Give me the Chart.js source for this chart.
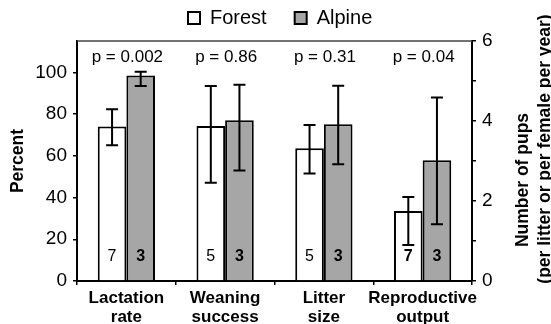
<!DOCTYPE html>
<html>
<head>
<meta charset="utf-8">
<script src="https://cdn.jsdelivr.net/npm/chart.js@4.4.1/dist/chart.umd.min.js"></script>
<style>
  html, body { margin: 0; padding: 0; background: #fff; }
  #wrap { width: 551px; height: 324px; }
</style>
</head>
<body>
<div id="wrap"><canvas id="pups"></canvas></div>
<script>
// values
const categories = [['Lactation', 'rate'], ['Weaning', 'success'], ['Litter', 'size'], ['Reproductive', 'output']];
const axisOf = ['pct', 'pct', 'pups', 'pups'];
const forestMean = [74, 74.3, 3.32, 1.75];
const forestLow = [65, 47.1, 2.69, 0.9];
const forestHigh = [82.3, 93.4, 3.9, 2.1];
const alpineMean = [98.5, 77, 3.92, 3.02];
const alpineLow = [93.4, 53, 2.92, 1.42];
const alpineHigh = [100.3, 94, 4.88, 4.59];
const forestN = ['7', '5', '5', '7'];
const forestNBold = [false, false, false, true];
const alpineN = ['3', '3', '3', '3'];
const alpineNBold = [true, true, true, true];
const pValues = ['p = 0.002', 'p = 0.86', 'p = 0.31', 'p = 0.04'];
const pctTicks = [0, 20, 40, 60, 80, 100];
const pupTicks = [0, 2, 4, 6];

const FONT = "'Liberation Sans', Arial, sans-serif";
const ALPINE_GREY = '#a6a6a6';

Chart.defaults.font.family = FONT;
Chart.defaults.color = '#000';

// only keep the values that belong on the given axis
const pick = (arr, axis) => arr.map((v, i) => axisOf[i] === axis ? v : null);

function makeSet(label, mean, low, high, n, nBold, axis, fill) {
  return {
    label: label,
    data: pick(mean, axis),
    errLow: low,
    errHigh: high,
    nText: n,
    nBold: nBold,
    yAxisID: axis,
    backgroundColor: fill,
    borderColor: '#000',
    borderWidth: 2,
    skipNull: true,
    categoryPercentage: 0.58,
    barPercentage: 1.0,
  };
}

const decorations = {
  id: 'decorations',
  afterDatasetsDraw(chart) {
    const { ctx, chartArea, scales } = chart;
    ctx.save();

    // frame line on top of the plot
    ctx.strokeStyle = '#444';
    ctx.lineWidth = 1.5;
    ctx.beginPath();
    ctx.moveTo(chartArea.left, chartArea.top);
    ctx.lineTo(chartArea.right, chartArea.top);
    ctx.stroke();

    // error bars + sample sizes
    chart.data.datasets.forEach((ds, di) => {
      const meta = chart.getDatasetMeta(di);
      const yScale = scales[ds.yAxisID];
      meta.data.forEach((bar, i) => {
        if (ds.data[i] === null) return;
        const yLo = yScale.getPixelForValue(ds.errLow[i]);
        const yHi = yScale.getPixelForValue(ds.errHigh[i]);
        ctx.strokeStyle = '#000';
        ctx.lineWidth = 2;
        ctx.beginPath();
        ctx.moveTo(bar.x, yLo);
        ctx.lineTo(bar.x, yHi);
        ctx.moveTo(bar.x - 6, yLo);
        ctx.lineTo(bar.x + 6, yLo);
        ctx.moveTo(bar.x - 6, yHi);
        ctx.lineTo(bar.x + 6, yHi);
        ctx.stroke();

        ctx.fillStyle = '#000';
        ctx.textAlign = 'center';
        ctx.textBaseline = 'middle';
        ctx.font = (ds.nBold[i] ? 'bold ' : '') + '16px ' + FONT;
        ctx.fillText(ds.nText[i], bar.x, chartArea.bottom - 24.5);
      });
    });

    // p values
    ctx.font = '17px ' + FONT;
    ctx.textAlign = 'center';
    ctx.textBaseline = 'middle';
    pValues.forEach((p, i) => {
      ctx.fillText(p, scales.x.getPixelForValue(i) + 1, chartArea.top + 16);
    });
    ctx.restore();
  },
  afterDraw(chart) {
    const { ctx } = chart;
    ctx.save();

    // LEGEND
    ctx.font = '20px ' + FONT;
    ctx.textBaseline = 'middle';
    ctx.textAlign = 'left';
    let x = 188;
    [['Forest', '#fff'], ['Alpine', ALPINE_GREY]].forEach(([txt, fill]) => {
      ctx.fillStyle = fill;
      ctx.fillRect(x, 12, 12, 12);
      ctx.strokeStyle = '#000';
      ctx.lineWidth = 2;
      ctx.strokeRect(x, 12, 12, 12);
      ctx.fillStyle = '#000';
      ctx.fillText(txt, x + 22, 18.5);
      x += 22 + ctx.measureText(txt).width + 28;
    });

    // RIGHT AXIS TITLE (reads bottom to top)
    ctx.font = 'bold 17.5px ' + FONT;
    ctx.textAlign = 'center';
    const rightTitle = [['Number of pups', chart.width - 28, 180], ['(per litter or per female per year)', chart.width - 6, 149]];
    rightTitle.forEach(([txt, tx, ty]) => {
      ctx.save();
      ctx.translate(tx, ty);
      ctx.rotate(-Math.PI / 2);
      ctx.fillText(txt, 0, 0);
      ctx.restore();
    });
    ctx.restore();
  }
};

const ctx = document.getElementById('pups');

const data = {
  labels: categories,
  datasets: [
    makeSet('Forest', forestMean, forestLow, forestHigh, forestN, forestNBold, 'pct', '#fff'),
    makeSet('Alpine', alpineMean, alpineLow, alpineHigh, alpineN, alpineNBold, 'pct', ALPINE_GREY),
    makeSet('Forest', forestMean, forestLow, forestHigh, forestN, forestNBold, 'pups', '#fff'),
    makeSet('Alpine', alpineMean, alpineLow, alpineHigh, alpineN, alpineNBold, 'pups', ALPINE_GREY),
  ]
};

const config = {
  type: 'bar',
  data: data,
  options: {
    responsive: true,
    maintainAspectRatio: false,
    animation: false,
    layout: { padding: { top: 41, left: 0, right: 0, bottom: 0 } },
    plugins: {
      legend: { display: false },
      tooltip: { enabled: false },
    },
    scales: {
      x: {
        grid: { offset: true, drawOnChartArea: false, tickLength: 4, color: '#000', lineWidth: 1.5 },
        border: { color: '#000', width: 2 },
        ticks: {
          autoSkip: false,
          maxRotation: 0,
          padding: 4,
          color: '#000',
          font: { size: 17, weight: 'bold', lineHeight: 1.1 },
        },
        afterFit: scale => { scale.height = 43; },
      },
      pct: {
        type: 'linear',
        position: 'left',
        min: 0,
        max: 115,
        afterBuildTicks: scale => { scale.ticks = pctTicks.map(v => ({ value: v })); },
        grid: { drawOnChartArea: false, tickLength: 4, color: '#000', lineWidth: 1.5 },
        border: { color: '#000', width: 2 },
        ticks: { padding: 6, font: { size: 19 } },
        title: {
          display: true,
          text: 'Percent',
          font: { size: 17.5, weight: 'bold' },
          padding: { top: 7.5, bottom: 0 },
        },
        afterFit: scale => { scale.width = 77; },
      },
      pups: {
        type: 'linear',
        position: 'right',
        min: 0,
        max: 6,
        grid: { drawOnChartArea: false, tickLength: 4, color: '#000', lineWidth: 1.5 },
        border: { color: '#000', width: 2 },
        ticks: {
          stepSize: 1,
          padding: 6,
          font: { size: 19 },
          callback: v => pupTicks.includes(v) ? v : '',
        },
        afterFit: scale => { scale.width = 79; },
      },
    },
  },
  plugins: [decorations],
};

new Chart(ctx, config);
</script>
</body>
</html>
